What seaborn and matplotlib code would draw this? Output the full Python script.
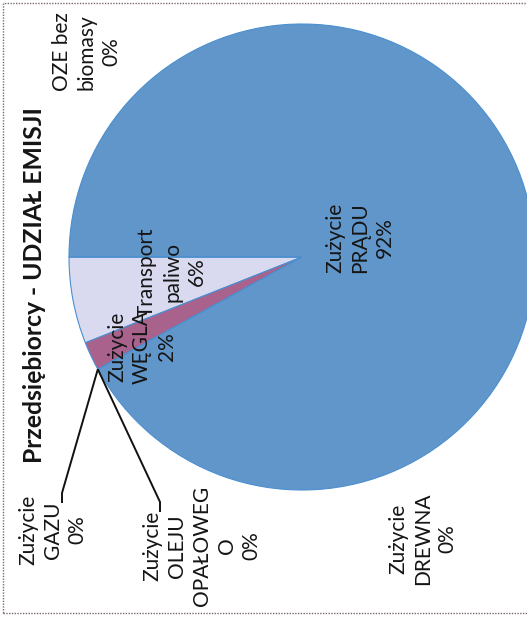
import numpy as np
import matplotlib
matplotlib.use("Agg")
import matplotlib.pyplot as plt
from matplotlib.patches import Rectangle
import seaborn as sns

# Emission shares of businesses by source (%)
categories = ["Transport\npaliwo", "Zużycie\nWĘGLA", "Zużycie\nOLEJU\nOPAŁOWEG\nO",
              "Zużycie\nGAZU", "Zużycie\nDREWNA", "Zużycie\nPRĄDU", "OZE bez\nbiomasy"]
shares = [6, 2, 0, 0, 0, 92, 0]
colors = ["#d9d9ef", "#a9628c", "#6196cb", "#6196cb", "#6196cb", "#6196cb", "#6196cb"]
title = "Przedsiębiorcy - UDZIAŁ EMISJI"

sns.set_theme(style="white")
plt.rcParams["font.family"] = ["Lato", "DejaVu Sans"]

W, H = 527, 618
fig = plt.figure(figsize=(W / 100, H / 100), dpi=100)
ax = fig.add_axes([0, 0, 1, 1])

# page coordinates: x to the right, y upward, in pixels
cx, cy, r = 302, H - 257, 233
start = 180
ax.pie(shares, colors=colors, startangle=start, counterclock=True,
       center=(cx, cy), radius=r,
       wedgeprops=dict(edgecolor="#4b8fd0", linewidth=0.8))
ax.set_xlim(0, W)
ax.set_ylim(0, H)
ax.set_aspect("equal")
ax.axis("off")

# label placement (center of each rotated text block)
label_pos = {
    0: (172, H - 272),
    1: (142, H - 347),
    2: (202, H - 546),
    3: (53, H - 530),
    4: (423, H - 539),
    5: (360, H - 238),
    6: (87, H - 52),
}
for i, (name, val) in enumerate(zip(categories, shares)):
    x, y = label_pos[i]
    ax.text(x, y, f"{name}\n{val}%", rotation=90, ha="center", va="center",
            multialignment="center", fontsize=15, linespacing=1.3,
            color="#151515")

# leader lines to the zero-width slices between coal and electricity
cum = np.cumsum(shares)
ang = np.deg2rad(start + 360 * cum[1] / 100)
px, py = cx + r * np.cos(ang), cy + r * np.sin(ang)
hooks = {3: [(62, H - 493), (62, H - 503)], 2: [(160, H - 502), (160, H - 512)]}
for i, pts in hooks.items():
    xs = [px] + [p[0] for p in pts]
    ys = [py] + [p[1] for p in pts]
    ax.plot(xs, ys, color="#111111", lw=1.4, solid_capstyle="butt")

ax.text(35, H - 285, title, rotation=90, ha="center", va="center",
        fontsize=17.8, fontweight="bold", color="#151515")

# dotted frame around the chart area
fig.patches.append(Rectangle((3, 5), W + 10, H - 8, transform=None,
                             fill=False, edgecolor="#7a6a70", lw=1.0,
                             linestyle=(0, (1, 1))))

fig.savefig("out.png", dpi=100, facecolor="white")
